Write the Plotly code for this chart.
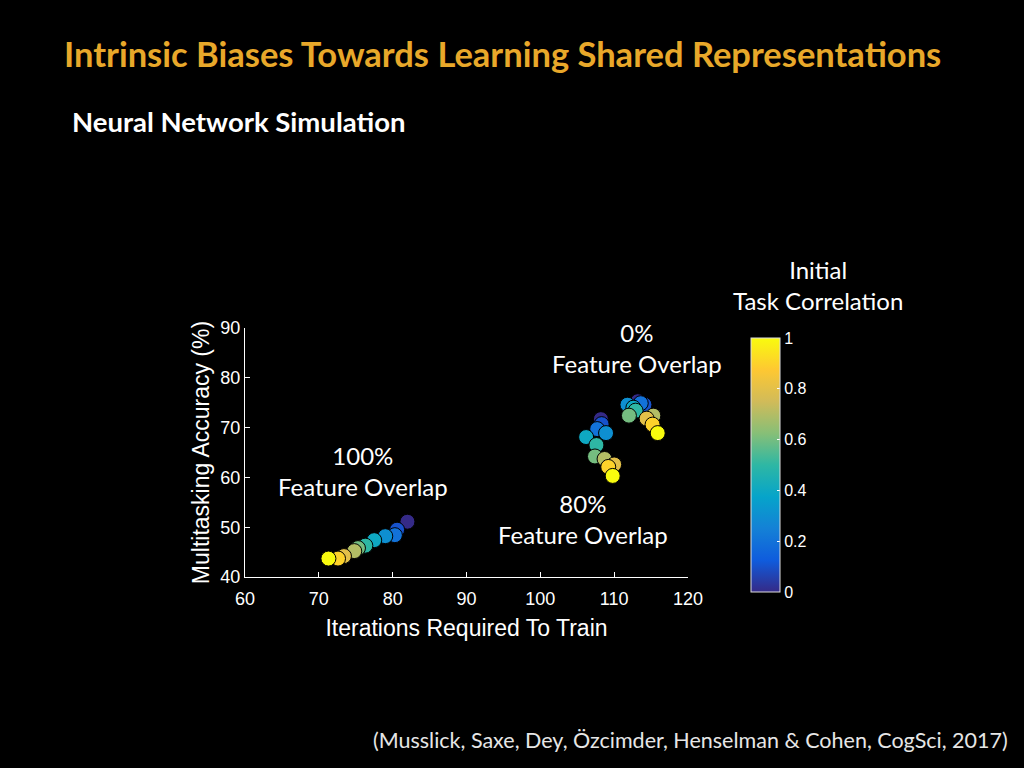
import plotly.graph_objects as go

# Initial task correlation levels (colour values)
corr = [0.0, 0.1, 0.2, 0.3, 0.4, 0.5, 0.6, 0.7, 0.8, 0.9, 1.0]

# 100% feature overlap
iter_100 = [82.0, 80.6, 80.3, 79.0, 77.5, 76.3, 75.3, 74.8, 73.4, 72.6, 71.3]
acc_100 = [51.1, 49.5, 48.4, 48.2, 47.4, 46.3, 45.8, 45.2, 44.2, 43.7, 43.7]

# 80% feature overlap
iter_80 = [108.2, 108.3, 107.7, 108.9, 106.2, 107.6, 107.4, 108.7, 110.0, 109.2, 109.8]
acc_80 = [71.7, 70.7, 69.7, 68.9, 68.1, 66.5, 64.2, 63.7, 62.6, 62.1, 60.3]

# 0% feature overlap
iter_0 = [113.2, 114.1, 113.6, 111.8, 112.6, 112.9, 112.0, 115.3, 114.4, 115.2, 115.9]
acc_0 = [75.3, 74.6, 74.9, 74.6, 74.0, 73.4, 72.4, 72.4, 71.8, 70.6, 68.9]

x_ticks = [60, 70, 80, 90, 100, 110, 120]
y_ticks = [40, 50, 60, 70, 80, 90]
cb_ticks = [0, 0.2, 0.4, 0.6, 0.8, 1]

parula = [
    [0.0, "#352A87"], [0.125, "#0F5CDD"], [0.25, "#1481D6"],
    [0.375, "#06A4CA"], [0.5, "#2EB7A4"], [0.625, "#87BF77"],
    [0.75, "#D1BB59"], [0.875, "#FEC832"], [1.0, "#F9FB0E"],
]

fig = go.Figure()

clusters = [(iter_100, acc_100), (iter_80, acc_80), (iter_0, acc_0)]
for i, (xs, ys) in enumerate(clusters):
    fig.add_trace(go.Scatter(
        x=xs, y=ys, mode="markers",
        marker=dict(
            size=15, color=corr, colorscale=parula, cmin=0, cmax=1,
            line=dict(color="black", width=1),
            showscale=(i == 0),
            colorbar=dict(
                x=1.142, xanchor="left", xref="paper",
                y=0.45, yanchor="middle",
                len=254, lenmode="pixels",
                thickness=29, thicknessmode="pixels",
                outlinecolor="#dddddd", outlinewidth=1,
                tickvals=cb_ticks, ticktext=[str(t) for t in cb_ticks],
                ticks="inside", tickcolor="white", ticklen=3,
                tickfont=dict(family="Liberation Sans, Arial", size=16, color="white"),
                xpad=0, ypad=0,
            ),
        ),
        showlegend=False, hoverinfo="x+y",
    ))

text_font = "Lato, Open Sans, sans-serif"
axis_font = "Liberation Sans, Arial"

fig.update_layout(
    width=1024, height=768,
    paper_bgcolor="black", plot_bgcolor="black",
    margin=dict(l=245, r=336, t=328, b=191),
    showlegend=False,
    xaxis=dict(
        range=[60, 120], tickvals=x_ticks, showgrid=False, zeroline=False,
        showline=True, linecolor="white", linewidth=1,
        ticks="inside", tickcolor="white", ticklen=5,
        ticklabelstandoff=5,
        tickfont=dict(family=axis_font, size=18, color="white"),
        title=dict(text="Iterations Required To Train",
                   font=dict(family=axis_font, size=23, color="white"), standoff=12),
    ),
    yaxis=dict(
        range=[40, 90], tickvals=y_ticks, showgrid=False, zeroline=False,
        showline=True, linecolor="white", linewidth=1,
        ticks="inside", tickcolor="white", ticklen=5,
        tickfont=dict(family=axis_font, size=18, color="white"),
        title=dict(text="Multitasking Accuracy (%)",
                   font=dict(family=axis_font, size=23, color="white"), standoff=4),
    ),
)

ann = [
    dict(text="<b>Intrinsic Biases Towards Learning Shared Representations</b>",
         x=62, y=53, size=34.5, color="#E8A82A", xanchor="left"),
    dict(text="<b>Neural Network Simulation</b>", x=70, y=122, size=27.5,
         color="white", xanchor="left"),
    dict(text="(Musslick, Saxe, Dey, Özcimder, Henselman &amp; Cohen, CogSci, 2017)",
         x=1010, y=740, size=21.5, color="#e6e6e6", xanchor="right"),
    dict(text="Initial<br>Task Correlation", x=818, y=285, size=24,
         color="white", xanchor="center"),
    dict(text="0%<br>Feature Overlap", x=637, y=348, size=24,
         color="white", xanchor="center"),
    dict(text="100%<br>Feature Overlap", x=363, y=471, size=24,
         color="white", xanchor="center"),
    dict(text="80%<br>Feature Overlap", x=583, y=519, size=24,
         color="white", xanchor="center"),
]
for a in ann:
    fig.add_annotation(
        text=a["text"], xref="paper", yref="paper",
        x=(a["x"] - 245) / 443, y=(577 - a["y"]) / 249,
        xanchor=a["xanchor"], yanchor="middle", showarrow=False,
        font=dict(family=text_font, size=a["size"], color=a["color"]),
        align="center",
    )

fig.write_html("out.html", config={"displayModeBar": False},
               post_script="document.body.style.margin='0';document.body.style.background='black';")
